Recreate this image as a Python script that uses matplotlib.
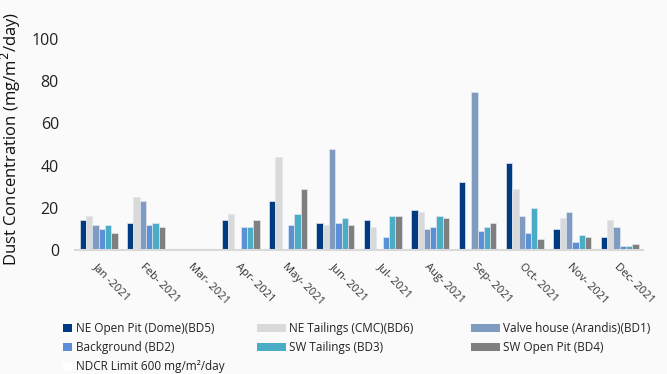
import numpy as np
import matplotlib.pyplot as plt
from matplotlib.patches import Patch

plt.rcParams['font.family'] = ['Open Sans', 'DejaVu Sans']

# monthly dust fallout per station
months = ["Jan -2021", "Feb- 2021", "Mar- 2021", "Apr- 2021", "May- 2021", "Jun- 2021",
          "Jul- 2021", "Aug- 2021", "Sep- 2021", "Oct- 2021", "Nov- 2021", "Dec- 2021"]

bd5 = [14, 13, 0, 14, 23, 13, 14, 19, 32, 41, 10, 6]
bd6 = [16, 25, 0, 17, 44, 12, 11, 18, 0, 29, 15, 14]
bd1 = [12, 23, 0, 0, 0, 48, 0, 10, 75, 16, 18, 11]
bd2 = [10, 12, 0, 11, 12, 13, 6, 11, 9, 8, 4, 2]
bd3 = [12, 13, 0, 11, 17, 15, 16, 16, 11, 20, 7, 2]
bd4 = [8, 11, 0, 14, 29, 12, 16, 15, 13, 5, 6, 3]

series = [
    ("NE Open Pit (Dome)(BD5)", bd5, "#003a80"),
    ("NE Tailings (CMC)(BD6)", bd6, "#d9d9d9"),
    ("Valve house (Arandis)(BD1)", bd1, "#7f9cc0"),
    ("Background (BD2)", bd2, "#5b8fd6"),
    ("SW Tailings (BD3)", bd3, "#4bacc6"),
    ("SW Open Pit (BD4)", bd4, "#7f7f7f"),
]

fig = plt.figure(figsize=(6.67, 3.74), dpi=100, facecolor="#fafafa")
ax = fig.add_axes([0.1124, 0.3316, 0.852, 0.564])
ax.set_facecolor("#fafafa")

x = np.arange(len(months))
w = 0.8 / len(series)
for i, (name, vals, col) in enumerate(series):
    ax.bar(x - 0.4 + w * (i + 0.5), vals, w, color=col,
           edgecolor="#dfe6f0", linewidth=0.5, label=name)

# regulatory limit sits far above the plotted range
limit = 600
ax.plot([-0.5, 11.5], [limit, limit], color="white", lw=2)

ax.set_xlim(-0.5, 11.5)
ax.set_ylim(0, 100)
ax.set_yticks([0, 20, 40, 60, 80, 100])
ax.tick_params(axis="y", length=0, labelsize=11.5, colors="#222222", pad=11.5)
ax.tick_params(axis="x", length=0, pad=8)
ax.set_xticks(x)
ax.set_xticklabels(months, rotation=-45, ha="left", va="top",
                   rotation_mode="anchor", fontsize=8, color="#333333")
for s in ["top", "right", "left"]:
    ax.spines[s].set_visible(False)
ax.spines["bottom"].set_color("#d9d9d9")
ax.spines["bottom"].set_linewidth(1.5)

ax.set_ylabel("Dust Concentration (mg/m$^2$/day)", fontsize=12, color="#111111")
ax.yaxis.set_label_coords(-0.0915, 0.526)

# legend laid out in three columns, filled row by row
cols = [
    [(series[0][0], series[0][2]), (series[3][0], series[3][2]),
     ("NDCR Limit 600 mg/m²/day", "white")],
    [(series[1][0], series[1][2]), (series[4][0], series[4][2])],
    [(series[2][0], series[2][2]), (series[5][0], series[5][2])],
]
anchors = [0.0945, 0.3853, 0.7061]
hlens = [0.76, 2.45, 2.45]
for entries, xa, hl in zip(cols, anchors, hlens):
    hs = [Patch(facecolor=c, edgecolor="none") for _, c in entries]
    leg = fig.legend(hs, [n for n, _ in entries], loc="upper left",
                     bbox_to_anchor=(xa, 0.139), frameon=False, fontsize=8.5,
                     handlelength=hl, handleheight=0.7, handletextpad=0.3,
                     labelspacing=0.5, borderpad=0, borderaxespad=0)
    for t in leg.get_texts():
        t.set_color("#222222")

fig.savefig("out.png", dpi=100, facecolor=fig.get_facecolor())
